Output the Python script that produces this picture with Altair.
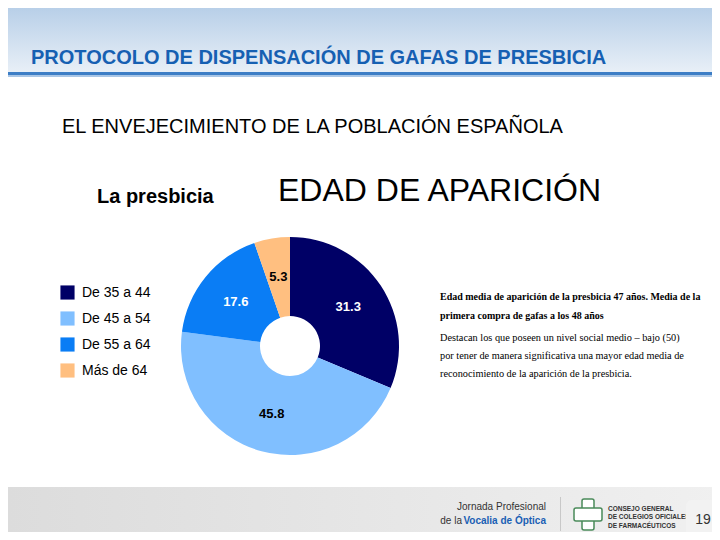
import altair as alt
import pandas as pd

# ---- data ----
categories = ["De 35 a 44", "De 45 a 54", "De 55 a 64", "Más de 64"]
values = [31.3, 45.8, 17.6, 5.3]
slice_colors = ["#000066", "#80bfff", "#0a7df5", "#ffbf80"]
label_colors = ["#ffffff", "#000000", "#ffffff", "#000000"]

header_title = "PROTOCOLO DE DISPENSACIÓN DE GAFAS DE PRESBICIA"
subtitle = "EL ENVEJECIMIENTO DE LA POBLACIÓN ESPAÑOLA"
left_heading = "La presbicia"
main_heading = "EDAD DE APARICIÓN"
bold_lines = ["Edad media de aparición de la presbicia 47 años. Media de la",
              "primera compra de gafas a los 48 años"]
normal_lines = ["Destacan los que poseen un nivel social medio – bajo (50)",
                "por tener de manera significativa una mayor edad media de",
                "reconocimiento de la aparición de la presbicia."]
page_number = "19"

df = pd.DataFrame({
    "cat": categories,
    "val": values,
    "order": list(range(len(categories))),
    "lab": label_colors,
})

W, H = 704, 524
OX, OY = 8, 8  # page margin offset
CX, CY = 290 - OX, 346 - OY

one = pd.DataFrame({"d": [0]})

def txt(text, x, y, size, color="#000000", weight="normal", font="Liberation Sans", align="left"):
    return alt.Chart(one).mark_text(
        text=text, fontSize=size, font=font, fontWeight=weight, color=color,
        align=align, baseline="middle"
    ).encode(x=alt.value(x - OX), y=alt.value(y - OY))

def rect(x, x2, y, y2, fill, stroke=None, r=0):
    kw = dict(fill=fill, cornerRadius=r)
    if stroke:
        kw["stroke"] = stroke
        kw["strokeWidth"] = 1.5
    return alt.Chart(one).mark_rect(**kw).encode(
        x=alt.value(x - OX), x2=alt.value(x2 - OX),
        y=alt.value(y - OY), y2=alt.value(y2 - OY))

header_grad = alt.Gradient(
    gradient="linear", x1=0, x2=0, y1=0, y2=1,
    stops=[alt.GradientStop(color="#b8cfe8", offset=0),
           alt.GradientStop(color="#e8eff7", offset=1)])
footer_grad = alt.Gradient(
    gradient="linear", x1=0, x2=1, y1=0, y2=0,
    stops=[alt.GradientStop(color="#dcdcdc", offset=0),
           alt.GradientStop(color="#f0f0f0", offset=1)])

layers = [
    rect(OX, 720, OY, 72, header_grad),
    rect(OX, 720, 72, 75, "#3d7ec6"),
    rect(OX, 720, 75, 77, "#a9c6e6"),
    rect(OX, 720, 487, 540, footer_grad),
    txt(header_title, 31, 58, 20, color="#1660b2", weight="bold"),
    txt(subtitle, 62, 127, 20),
    txt(left_heading, 97, 197, 20, weight="bold"),
    txt(main_heading, 278, 191, 32),
]

# right paragraph
for i, line in enumerate(bold_lines):
    layers.append(txt(line, 440, 297 + 19 * i, 10, weight="bold", font="Liberation Serif"))
for i, line in enumerate(normal_lines):
    layers.append(txt(line, 440, 338 + 18 * i, 10.3, font="Liberation Serif"))

# donut
arc = alt.Chart(df).mark_arc(outerRadius=109, innerRadius=30).encode(
    theta=alt.Theta("val:Q", stack=True),
    order=alt.Order("order:Q"),
    color=alt.Color("cat:N", sort=categories,
                    scale=alt.Scale(domain=categories, range=slice_colors),
                    legend=alt.Legend(orient="none", legendX=52, legendY=277, title=None,
                                      symbolType="square", symbolSize=200,
                                      labelFontSize=14, labelFont="Liberation Sans",
                                      labelColor="#000000",
                                      rowPadding=11, labelOffset=7, padding=0,
                                      symbolStrokeWidth=0)),
    x=alt.value(CX), y=alt.value(CY),
)
labels = alt.Chart(df).mark_text(radius=70, fontSize=13, fontWeight="bold",
                                 font="Liberation Sans").encode(
    theta=alt.Theta("val:Q", stack=True),
    order=alt.Order("order:Q"),
    text=alt.Text("val:Q", format=".1f"),
    color=alt.Color("lab:N", scale=None, legend=None),
    x=alt.value(CX), y=alt.value(CY),
)
pie = alt.layer(arc, labels).resolve_scale(color="independent")

footer = [
    txt("Jornada Profesional", 546, 507, 10, color="#333333", align="right"),
    txt("Vocalia de Óptica", 546, 521, 10, color="#1a5fb4", weight="bold", align="right"),
    txt("de la", 462, 521, 10, color="#333333", align="right"),
    rect(560, 561, 497, 531, "#c8c8c8"),
    rect(582, 594, 499, 530, "#ffffff", stroke="#4a8a5a", r=2),
    rect(574, 602, 508, 521, "#ffffff", stroke="#4a8a5a", r=2),
    rect(583, 593, 509, 520, "#ffffff"),
    txt("CONSEJO GENERAL", 608, 509, 6.5, color="#333333", weight="bold"),
    txt("DE COLEGIOS OFICIALES", 608, 517, 6.5, color="#333333", weight="bold"),
    txt("DE FARMACÉUTICOS", 608, 526, 6.5, color="#333333", weight="bold"),
    rect(686, 725, 500, 538, "#f2f2f2", r=6),
    txt(page_number, 703, 520, 14, color="#333333", align="center"),
]

chart = alt.layer(*layers, pie, *footer).properties(
    width=W, height=H, padding=0,
    autosize=alt.AutoSizeParams(type="none"),
).configure_view(stroke=None)

chart.save("out.html", embed_options={"renderer": "svg", "actions": False})
